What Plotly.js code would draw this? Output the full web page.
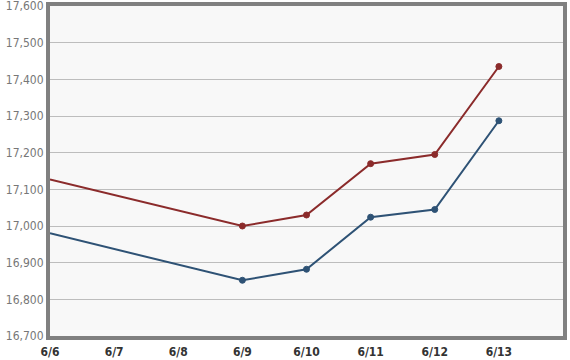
<!DOCTYPE html>
<html><head><meta charset="utf-8">
<script src="https://cdn.plot.ly/plotly-3.0.1.min.js"></script>
<style>html,body{margin:0;padding:0;background:#fff;}#chart{width:570px;height:360px;}</style>
</head><body><div id="chart"></div>
<script>
const dates = ['2014-06-06','2014-06-09','2014-06-10','2014-06-11','2014-06-12','2014-06-13'];
const redSeries = [17127, 17000, 17030, 17170, 17195, 17435];
const blueSeries = [16980, 16852, 16882, 17024, 17045, 17287];
const tickDates = ['2014-06-06','2014-06-07','2014-06-08','2014-06-09','2014-06-10','2014-06-11','2014-06-12','2014-06-13'];
const tickLabels = ['6/6','6/7','6/8','6/9','6/10','6/11','6/12','6/13'];
const yTicks = [16700,16800,16900,17000,17100,17200,17300,17400,17500,17600];

const markerSizes = dates.map((d,i)=> i===0 ? 0 : 6);
const lineWidths = dates.map((d,i)=> i===0 ? 0 : 1);
const font = '"Liberation Sans Narrow","DejaVu Sans Condensed","Liberation Sans",sans-serif';
const RED = '#8b2b2b', BLUE = '#2e5275';

const traces = [
  {x: dates, y: redSeries, mode:'lines+markers', line:{color:RED, width:2}, marker:{color:RED, opacity:1, size:markerSizes, line:{width:lineWidths, color:RED}}, hoverinfo:'none'},
  {x: dates, y: blueSeries, mode:'lines+markers', line:{color:BLUE, width:2}, marker:{color:BLUE, opacity:1, size:markerSizes, line:{width:lineWidths, color:BLUE}}, hoverinfo:'none'}
];

const layout = {
  width:570, height:360,
  margin:{l:50, r:7, t:6, b:24},
  paper_bgcolor:'#ffffff', plot_bgcolor:'#f8f8f8',
  showlegend:false,
  font:{family:font},
  xaxis:{type:'date', range:['2014-06-06','2014-06-14'], tickvals:tickDates, ticktext:tickLabels,
    showgrid:false, zeroline:false, showline:true, mirror:true, linecolor:'#808080', linewidth:4,
    ticks:'', tickfont:{family:font, size:12, color:'#333333', weight:'bold'}, ticklabelstandoff:2,
    ticklabeloverflow:'allow'},
  yaxis:{range:[16700,17600], tickvals:yTicks, ticktext:yTicks.map(v=>v.toLocaleString('en-US')),
    showgrid:true, gridcolor:'#bdbdbd', gridwidth:1, zeroline:false, showline:true, mirror:true,
    linecolor:'#808080', linewidth:4, ticks:'', tickfont:{family:font, size:12, color:'#777777'},
    ticklabeloverflow:'allow'}
};
Plotly.newPlot('chart', traces, layout, {staticPlot:true});
</script></body></html>
